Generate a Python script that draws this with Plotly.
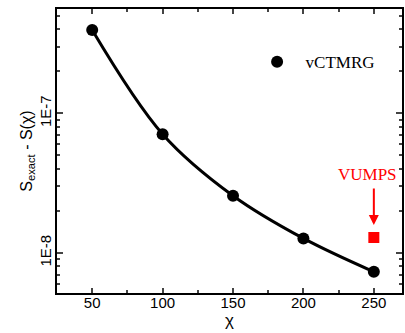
import plotly.graph_objects as go
import numpy as np

chi = [50, 100, 150, 200, 250]
s_err = [3.96e-7, 7.1e-8, 2.57e-8, 1.27e-8, 7.32e-9]
vumps_chi = [250]
vumps_err = [1.29e-8]
ytick_vals = [1e-8, 1e-7]
ytick_text = ["1E-8", "1E-7"]
xtick_vals = [50, 100, 150, 200, 250]

minor_y = [m * 10.0 ** e for e in (-9, -8, -7) for m in range(2, 10)]

fig = go.Figure()
fig.add_trace(go.Scatter(x=chi, y=s_err, mode="lines",
                         line=dict(color="black", width=3, shape="spline", smoothing=1.0),
                         showlegend=False, hoverinfo="skip"))
fig.add_trace(go.Scatter(x=chi, y=s_err, mode="markers", name="\u00a0\u00a0vCTMRG",
                         marker=dict(color="black", size=12, symbol="circle")))
fig.add_trace(go.Scatter(x=vumps_chi, y=vumps_err, mode="markers", showlegend=False,
                         marker=dict(color="#ff0000", size=11, symbol="square")))

fig.add_annotation(x=250, y=-7.80, xref="x", yref="y", text="", showarrow=True,
                   axref="pixel", ayref="pixel", ax=0, ay=-38,
                   arrowhead=2, arrowsize=1, arrowwidth=2, arrowcolor="#ff0000")
fig.add_annotation(x=245.5, y=-7.435, xref="x", yref="y", text="VUMPS", showarrow=False,
                   font=dict(family="Liberation Serif", size=17, color="#ff0000"))

fig.update_layout(
    width=405, height=333,
    margin=dict(l=57, r=1, t=9, b=40),
    paper_bgcolor="white", plot_bgcolor="white",
    font=dict(family="Liberation Sans", size=15, color="black"),
    legend=dict(x=0.58, y=0.813, xanchor="left", yanchor="middle",
                bgcolor="rgba(0,0,0,0)", font=dict(family="Liberation Serif", size=17)),
    xaxis=dict(range=[25, 270], tickvals=xtick_vals, ticks="inside", ticklen=5,
               tickwidth=1.5, showline=True, linewidth=2, linecolor="black",
               mirror="ticks", showgrid=False, zeroline=False, ticklabelstandoff=-5,
               minor=dict(tickvals=[75, 125, 175, 225], ticks="inside", ticklen=3,
                          tickwidth=1.5, showgrid=False),
               title=dict(text="χ", font=dict(size=17), standoff=0)),
    yaxis=dict(type="log", range=[np.log10(5.16e-9), np.log10(5.6e-7)],
               tickvals=ytick_vals, ticktext=ytick_text, tickangle=-90,
               ticks="inside", ticklen=6, tickwidth=1.5, showline=True, linewidth=2,
               linecolor="black", mirror="ticks", showgrid=False, zeroline=False,
               ticklabelstandoff=-2,
               minor=dict(tickvals=minor_y, ticks="inside", ticklen=3, tickwidth=1.5,
                          showgrid=False),
               title=dict(text="S<sub>exact</sub> - S(χ)", font=dict(size=16), standoff=0)),
)

fig.write_html("out.html")
